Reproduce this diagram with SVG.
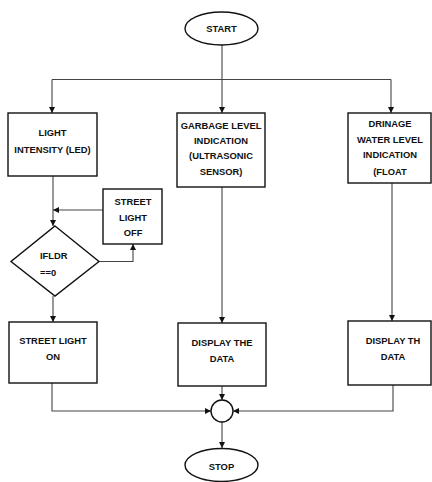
<svg xmlns="http://www.w3.org/2000/svg" width="432" height="482" viewBox="0 0 432 482">
<style>
.s{fill:#fff;stroke:#111;stroke-width:1.4}
.c{fill:none;stroke:#444;stroke-width:1.1}
text{font-family:"Liberation Sans",Arial,sans-serif;font-weight:bold;font-size:9.4px;fill:#111;text-anchor:middle;dominant-baseline:central}
</style>
<defs>
<marker id="a" viewBox="0 0 10 10" refX="10" refY="5" markerWidth="6" markerHeight="6" markerUnits="userSpaceOnUse" orient="auto">
<path d="M0,0L10,5L0,10z" fill="#111"/>
</marker>
</defs>
<g id="connectors">
<path class="c" d="M222,45V79.5"/>
<path class="c" d="M52,79.5H391"/>
<path class="c" d="M52,79.5V113" marker-end="url(#a)"/>
<path class="c" d="M222,79.5V113" marker-end="url(#a)"/>
<path class="c" d="M391,79.5V113" marker-end="url(#a)"/>
<path class="c" d="M53,176V226" marker-end="url(#a)"/>
<path class="c" d="M103,210H53" marker-end="url(#a)"/>
<path class="c" d="M99,261.5H133V244" marker-end="url(#a)"/>
<path class="c" d="M53,296V322" marker-end="url(#a)"/>
<path class="c" d="M222,187V323" marker-end="url(#a)"/>
<path class="c" d="M392,183V321" marker-end="url(#a)"/>
<path class="c" d="M52,383V411H211" marker-end="url(#a)"/>
<path class="c" d="M393,385V411H233" marker-end="url(#a)"/>
<path class="c" d="M222,386V400" marker-end="url(#a)"/>
<path class="c" d="M222,422V448" marker-end="url(#a)"/>
</g>
<g id="start"><ellipse class="s" cx="221.5" cy="28.5" rx="36.5" ry="16.5"/><text x="221.5" y="28.5">START</text></g>
<g id="light"><rect class="s" x="8" y="113" width="89" height="63"/><text x="52.5" y="132">LIGHT</text><text x="52.5" y="149">INTENSITY (LED)</text></g>
<g id="garbage"><rect class="s" x="177" y="113" width="88" height="74"/><text x="221" y="125">GARBAGE LEVEL</text><text x="221" y="140">INDICATION</text><text x="221" y="155">(ULTRASONIC</text><text x="221" y="171">SENSOR)</text></g>
<g id="drainage"><rect class="s" x="348" y="113" width="83" height="70"/><text x="390" y="123">DRINAGE</text><text x="390" y="139">WATER LEVEL</text><text x="390" y="154">INDICATION</text><text x="390" y="171">(FLOAT</text></g>
<g id="off"><rect class="s" x="103" y="189" width="59" height="55"/><text x="133" y="201">STREET</text><text x="133" y="217">LIGHT</text><text x="133" y="232">OFF</text></g>
<g id="decision"><path class="s" d="M55,226L99,261.5L55,296L11,261.5z"/><text x="40" y="255" style="text-anchor:start">IFLDR</text><text x="40" y="272" style="text-anchor:start">==0</text></g>
<g id="on"><rect class="s" x="9" y="322" width="88" height="61"/><text x="53" y="340">STREET LIGHT</text><text x="53" y="356">ON</text></g>
<g id="display1"><rect class="s" x="178" y="323" width="88" height="63"/><text x="222" y="342">DISPLAY THE</text><text x="222" y="358">DATA</text></g>
<g id="display2"><rect class="s" x="348" y="321" width="83" height="64"/><text x="393" y="340">DISPLAY TH</text><text x="393" y="356">DATA</text></g>
<g id="join"><circle class="s" cx="222" cy="411" r="11"/></g>
<g id="stop"><ellipse class="s" cx="221.5" cy="465" rx="36.5" ry="16.5"/><text x="221.5" y="466">STOP</text></g>
</svg>
